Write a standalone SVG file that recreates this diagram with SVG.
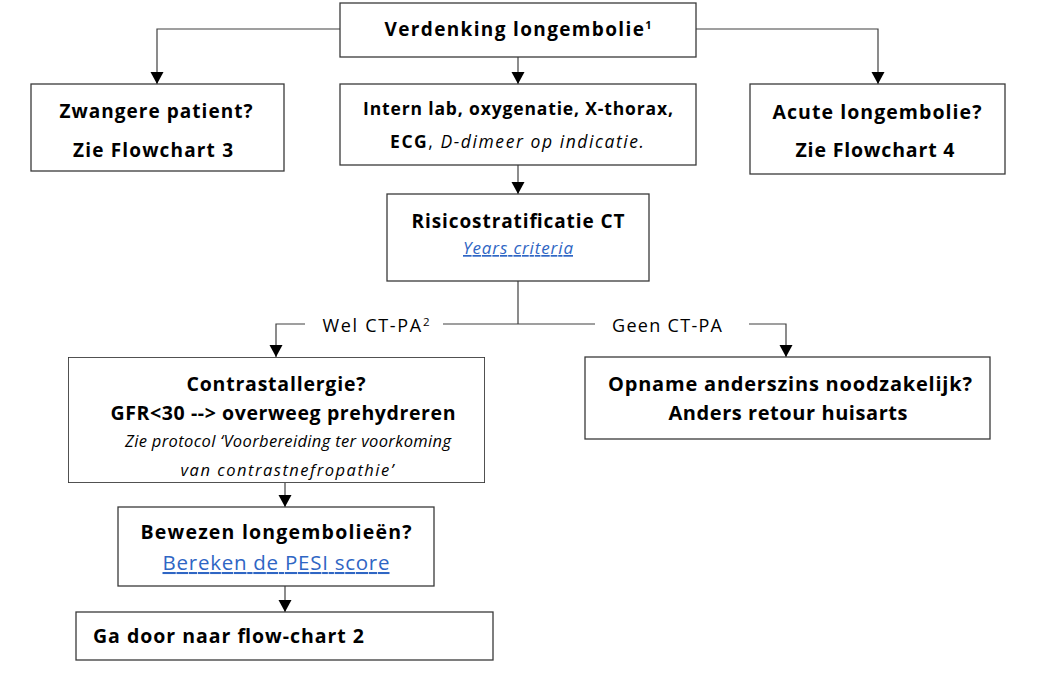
<svg xmlns="http://www.w3.org/2000/svg" width="1038" height="674" viewBox="0 0 1038 674">
<style>
.box{fill:#fff;stroke:#3a3a3a;stroke-width:1.3}
.ln{fill:none;stroke:#404040;stroke-width:1.2}
.b{font-family:"Open Sans","Liberation Sans",sans-serif;font-weight:bold;fill:#000;text-anchor:middle}
.r{font-family:"Open Sans","Liberation Sans",sans-serif;fill:#000;text-anchor:middle}
.i{font-style:italic}
.link{fill:#2f66c4;text-decoration:underline}
</style>
<defs>
<marker id="ah" markerUnits="userSpaceOnUse" markerWidth="14" markerHeight="14" refX="12" refY="6.5" orient="auto">
<path d="M0,0 L12,6.5 L0,13 Z" fill="#000"/>
</marker>
<clipPath id="cpC"><rect x="68" y="357" width="417" height="126"/></clipPath>
</defs>
<rect width="1038" height="674" fill="#fff"/>
<g id="connectors">
<path class="ln" d="M340,29 H157 V84" marker-end="url(#ah)"/>
<path class="ln" d="M518,57 V84" marker-end="url(#ah)"/>
<path class="ln" d="M696,29 H878 V84" marker-end="url(#ah)"/>
<path class="ln" d="M518,165 V194" marker-end="url(#ah)"/>
<path class="ln" d="M518,281 V324 M443,324 H595"/>
<path class="ln" d="M305,324 H276 V357" marker-end="url(#ah)"/>
<path class="ln" d="M749,324 H786 V357" marker-end="url(#ah)"/>
<path class="ln" d="M285,483 V507" marker-end="url(#ah)"/>
<path class="ln" d="M285,586 V612" marker-end="url(#ah)"/>
<text class="r" x="376" y="332" font-size="18" textLength="107">Wel CT-PA<tspan font-size="11.5" dy="-6">2</tspan></text>
<text class="r" x="667" y="332" font-size="18" textLength="110">Geen CT-PA</text>
</g>
<g id="n-verdenking">
<rect class="box" x="340" y="3" width="356" height="54"/>
<text class="b" x="518" y="36" font-size="19" textLength="267">Verdenking longembolie<tspan font-size="11" dy="-7">1</tspan></text>
</g>
<g id="n-zwanger">
<rect class="box" x="31" y="84" width="253" height="87"/>
<text class="b" x="156" y="118" font-size="19" textLength="193">Zwangere patient?</text>
<text class="b" x="153" y="157" font-size="19" textLength="160">Zie Flowchart 3</text>
</g>
<g id="n-intern">
<rect class="box" x="340" y="84" width="356" height="81"/>
<text class="b" x="518" y="115" font-size="17.5" textLength="310">Intern lab, oxygenatie, X-thorax,</text>
<text class="b" x="517" y="148" font-size="17.5" textLength="254">ECG<tspan font-weight="normal">, </tspan><tspan font-weight="normal" font-style="italic">D-dimeer op indicatie.</tspan></text>
</g>
<g id="n-acute">
<rect class="box" x="750" y="84" width="255" height="90"/>
<text class="b" x="877" y="119" font-size="19.5" textLength="209">Acute longembolie?</text>
<text class="b" x="875" y="157" font-size="19.5" textLength="159">Zie Flowchart 4</text>
</g>
<g id="n-risico">
<rect class="box" x="387" y="194" width="262" height="87"/>
<text class="b" x="518" y="228" font-size="19" textLength="213">Risicostratificatie CT</text>
<text class="r i link" x="518" y="254" font-size="17" textLength="110">Years criteria</text>
</g>
<g id="n-contrast" clip-path="url(#cpC)">
<rect class="box" x="68" y="357" width="417" height="126"/>
<text class="b" x="276" y="391" font-size="19.5" textLength="179">Contrastallergie?</text>
<text class="b" x="283" y="420" font-size="19.5" textLength="345">GFR&lt;30 --&gt; overweeg prehydreren</text>
<text class="r i" x="288" y="447" font-size="16.5" textLength="326">Zie protocol ‘Voorbereiding ter voorkoming</text>
<text class="r i" x="287" y="476" font-size="16.5" textLength="213">van contrastnefropathie’</text>
<rect x="68" y="357" width="417" height="126" fill="none" stroke="#3a3a3a" stroke-width="1.3"/>
</g>
<g id="n-opname">
<rect class="box" x="585" y="357" width="405" height="82"/>
<text class="b" x="790" y="391" font-size="20" textLength="364">Opname anderszins noodzakelijk?</text>
<text class="b" x="788" y="420" font-size="20" textLength="239">Anders retour huisarts</text>
</g>
<g id="n-bewezen">
<rect class="box" x="118" y="507" width="316" height="79"/>
<text class="b" x="276" y="539" font-size="19.5" textLength="271">Bewezen longembolieën?</text>
<text class="r link" x="276" y="570" font-size="20.5" textLength="227">Bereken de PESI score</text>
</g>
<g id="n-gadoor">
<rect class="box" x="76" y="612" width="417" height="48"/>
<text class="b" x="93" y="643" font-size="19.5" style="text-anchor:start" textLength="271">Ga door naar flow-chart 2</text>
</g>
</svg>
